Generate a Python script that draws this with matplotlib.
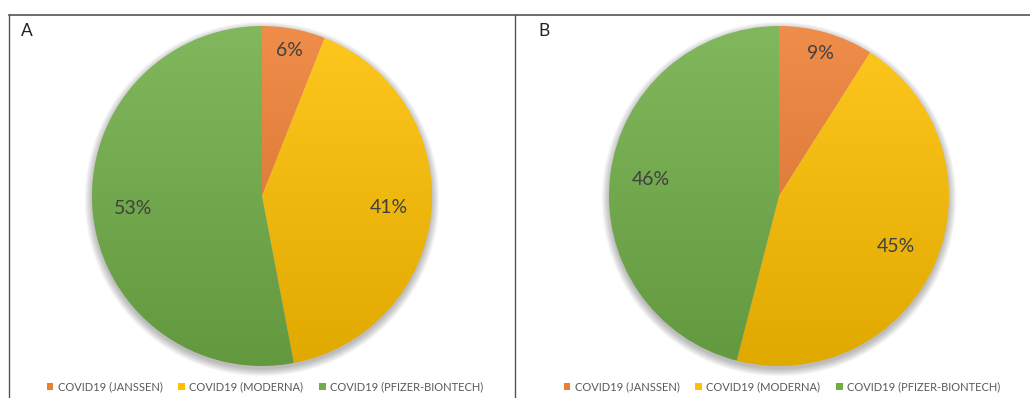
import numpy as np
import matplotlib
matplotlib.use("Agg")
import matplotlib.pyplot as plt
from matplotlib.patches import Patch, Circle
from matplotlib.lines import Line2D
from matplotlib.colors import to_rgb

# data
vaccines = ["COVID19 (JANSSEN)", "COVID19 (MODERNA)", "COVID19 (PFIZER-BIONTECH)"]
share_a = [6, 41, 53]
share_b = [9, 45, 46]
panel_letters = ["A", "B"]

colors = ["#ED7D31", "#FFC000", "#70AD47"]
label_r = [0.87, 0.75, 0.76]

plt.rcParams['font.family'] = ['Lato', 'DejaVu Sans']

W, H = 1030, 398
fig = plt.figure(figsize=(W / 100, H / 100), dpi=100)
R = 170  # pie radius, px


def px(x, y):
    return x / W, 1 - y / H


def gradient(c):
    base = np.array(to_rgb(c))
    t = np.linspace(0, 1, 200)[:, None]
    top = base + (1 - base) * 0.12
    bot = base * 0.88
    img = top * (1 - t) + bot * t
    return img[:, None, :]


def draw_panel(cx, cy, shares, letter):
    half = 185
    x0, y0 = px(cx - half, cy + half)
    ax = fig.add_axes([x0, y0, 2 * half / W, 2 * half / H])
    lim = half / R

    # soft shadow under the pie
    for k in range(8):
        ax.add_patch(Circle((0, -0.018), 1 + 0.006 * k, color="black",
                            alpha=0.035, lw=0, zorder=0))

    wedges, _ = ax.pie(shares, startangle=90, counterclock=False,
                       colors=colors, radius=1)
    for w, c in zip(wedges, colors):
        w.set_zorder(2)
        im = ax.imshow(gradient(c), extent=(-1, 1, -1, 1), aspect="auto",
                       zorder=2, interpolation="bilinear")
        im.set_clip_path(w)
        w.set_facecolor("none")
        w.set_edgecolor("none")

    total = sum(shares)
    ang = 90
    for s, r in zip(shares, label_r):
        span = 360 * s / total
        mid = np.deg2rad(ang - span / 2)
        ax.text(r * np.cos(mid), r * np.sin(mid), f"{s}%", ha="center",
                va="center", fontsize=14, color="#404040", zorder=5)
        ang -= span

    ax.set_xlim(-lim, lim)
    ax.set_ylim(-lim, lim)
    ax.set_aspect("equal")
    ax.axis("off")

    fig.text(*px(cx - 241, 31), letter, fontsize=12.5, color="#222222",
             ha="left", va="center")

    handles = [Patch(facecolor=c, edgecolor="none") for c in colors]
    fig.legend(handles, vaccines, loc="center", bbox_to_anchor=px(cx + 3, 387),
               ncol=3, frameon=False, fontsize=8, labelcolor="#595959",
               handlelength=0.6, handleheight=0.6, handletextpad=0.4,
               columnspacing=1.4)


draw_panel(262, 196, share_a, panel_letters[0])
draw_panel(779, 196, share_b, panel_letters[1])

# panel frames
fc = "#555555"
fig.add_artist(Line2D([9 / W, 1], [1 - 15 / H] * 2, transform=fig.transFigure,
                      color=fc, lw=1.2))
for x in (9, 515):
    fig.add_artist(Line2D([x / W] * 2, [0, 1 - 15 / H],
                          transform=fig.transFigure, color=fc, lw=1))

fig.savefig("out.png", dpi=100, facecolor="white")
